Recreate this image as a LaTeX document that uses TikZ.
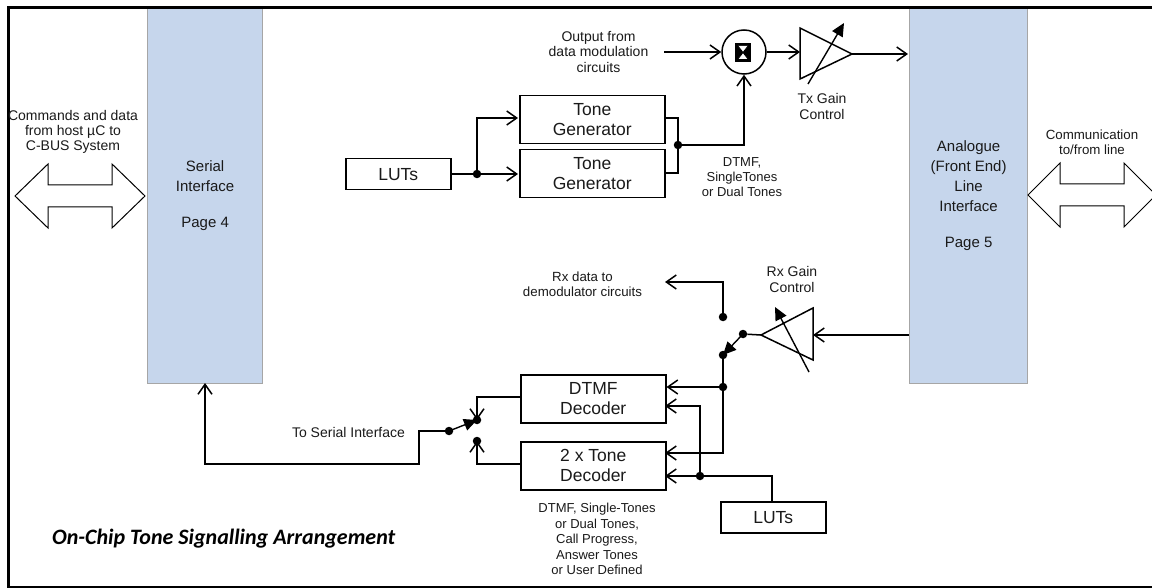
\documentclass[tikz,border=0pt]{standalone}
\usepackage{fontspec}
\setmainfont{Liberation Sans}
\newfontfamily\captionfont{Carlito}
\usetikzlibrary{arrows.meta}
\definecolor{panelblue}{HTML}{C6D6EC}
\definecolor{panelgrey}{HTML}{A6A6A6}
\definecolor{inktext}{HTML}{1A1A1A}
\tikzset{
  x=1pt,y=-1pt,
  wire/.style={draw=black,line width=1.5pt},
  flow/.style={wire,-{Straight Barb[length=10pt,width=14pt,line width=1.5pt]}},
  gainarrow/.style={draw=black,line width=1.4pt,-{Triangle[length=13pt,width=12pt]}},
  blockbox/.style={draw=black,line width=1.5pt,fill=white,inner sep=0pt,anchor=north west,align=center,font=\fontsize{17.5}{20}\selectfont,text=inktext},
  panel/.style={draw=panelgrey,line width=1.2pt,fill=panelblue,inner sep=0pt,anchor=north west,align=center,font=\fontsize{15}{20}\selectfont,text=inktext},
  label/.style={inner sep=0pt,align=center,font=\fontsize{13}{15}\selectfont,text=inktext},
  largelabel/.style={label,font=\fontsize{14}{15.2}\selectfont},
  dotnode/.style={circle,fill=black,inner sep=0pt,minimum size=8.5pt},
  bigarrow/.style={draw=black,line width=1pt,fill=white,line join=miter},
  ampshape/.style={draw=black,line width=1.5pt,fill=white,line join=miter},
}
\begin{document}
\begin{tikzpicture}
\useasboundingbox (0,0) rectangle (1152,588);
\fill[white] (0,0) rectangle (1152,588);
\node[panel,minimum width=115pt,minimum height=375pt] (serial) at (147,8) {Serial\\Interface\\[16pt]Page 4};
\node[panel,minimum width=118pt,minimum height=375pt] (analog) at (909,8) {Analogue\\(Front End)\\Line\\Interface\\[16pt]Page 5};
\draw[black,line width=3pt] (1152,8) -- (8,8) -- (8,587.5) -- (1152,587.5);
% wide double arrows
\draw[bigarrow] (15,196) -- (48,164) -- (48,185) -- (112,185) -- (112,164) -- (145,196) -- (112,228) -- (112,207) -- (48,207) -- (48,228) -- cycle;
\begin{scope}
\clip (1000,100) rectangle (1152,260);
\draw[bigarrow] (1028,195) -- (1060,163) -- (1060,184) -- (1124,184) -- (1124,163) -- (1156,195) -- (1124,227) -- (1124,206) -- (1060,206) -- (1060,227) -- cycle;
\end{scope}
\node[largelabel] (hostlabel) at (73,132) {Commands and data\\from host µC to\\C-BUS System};
\node[label,font=\fontsize{13.3}{14.6}\selectfont] (linelabel) at (1092,142) {Communication\\to/from line};
% transmit
\node[blockbox,minimum width=145pt,minimum height=48pt] (tone1) at (519,95) {Tone\\Generator};
\node[blockbox,minimum width=145pt,minimum height=48pt] (tone2) at (519,149) {Tone\\Generator};
\node[blockbox,minimum width=105pt,minimum height=31pt] (lutstx) at (345,158) {LUTs};
\node[dotnode] (jtx) at (477,174) {};
\coordinate (tone1in) at (518,118);
\coordinate (tone2in) at (518,174);
\draw[wire] (lutstx.east |- jtx) -- (jtx);
\draw[flow] (jtx) -- (tone2in);
\draw[flow] (jtx) |- (tone1in);
\node[circle,draw=black,line width=1.5pt,fill=white,minimum size=44pt,inner sep=0pt] (mixer) at (744,52) {};
\fill[black] (735,43) rectangle (751,62);
\fill[white] (738,46) -- (748,46) -- (743,52.5) -- cycle;
\fill[white] (738,59) -- (748,59) -- (743,52.5) -- cycle;
\draw[black,line width=0.8pt] (738,46) -- (748,59) (748,46) -- (738,59);
\node[dotnode] (jmix) at (678,145) {};
\draw[wire] (664,118) -| (jmix);
\draw[wire] (jmix) |- (664,173);
\draw[flow] (jmix) -| (mixer.south);
\coordinate (modout) at (664,52);
\node[largelabel] (modlabel) at (598.5,52) {Output from\\data modulation\\circuits};
\draw[flow] (modout) -- (mixer.west);
\coordinate (txin) at (800,52);
\draw[flow] (mixer.east) -- (txin);
\draw[ampshape] (800,28) -- (800,79) -- (852,54) -- cycle;
\coordinate (txout) at (852,54);
\coordinate (txin2) at (908,54);
\draw[flow] (txout) -- (txin2);
\coordinate (txga) at (808,84);
\coordinate (txgb) at (844,23);
\draw[gainarrow] (txga) -- (txgb);
\node[largelabel] (txlabel) at (822,106.5) {Tx Gain\\Control};
\node[label] (dtmflabel) at (742,177) {DTMF,\\SingleTones\\or Dual Tones};
% receive
\draw[ampshape] (813,308) -- (813,360) -- (761,335) -- cycle;
\coordinate (rxin) at (813,335);
\coordinate (rxtip) at (761,335);
\draw[flow] (analog.west |- rxin) -- (rxin);
\coordinate (rxga) at (809,372);
\coordinate (rxgb) at (775,307);
\draw[gainarrow] (rxga) -- (rxgb);
\node[largelabel] (rxlabel) at (792,279.5) {Rx Gain\\Control};
\node[dotnode] (sa) at (743,334) {};
\node[dotnode] (sb) at (723,355) {};
\node[dotnode] (sc) at (723,317) {};
\node[dotnode] (jrx) at (723,387) {};
\draw[wire] (rxtip) -- (sa);
\draw[gainarrow] (sa.center) -- (sb.center);
\coordinate (rxdata) at (665,282);
\draw[flow] (sc) |- (rxdata);
\node[label,font=\fontsize{13.3}{15}\selectfont] (rxdatalabel) at (582.5,284) {Rx data to\\demodulator circuits};
\node[blockbox,minimum width=145pt,minimum height=48pt] (dtmf) at (520,374) {DTMF\\Decoder};
\node[blockbox,minimum width=145pt,minimum height=48pt] (twotone) at (520,441) {2 x Tone\\Decoder};
\draw[wire] (sb) -- (jrx);
\draw[flow] (jrx) -- (dtmf.east |- jrx);
\coordinate (twoin) at (665,453);
\draw[flow] (jrx) |- (twoin);
\node[blockbox,minimum width=105pt,minimum height=31pt] (lutsrx) at (720,501) {LUTs};
\node[dotnode] (jlut) at (700,476) {};
\coordinate (dtmfin2) at (665,406);
\coordinate (twoin2) at (665,476);
\coordinate (lutstop) at (772,501);
\draw[flow] (jlut) |- (dtmfin2);
\draw[flow] (jlut) -- (twoin2);
\draw[wire] (lutstop) |- (jlut);
\node[label,font=\fontsize{13}{15.5}\selectfont] (decodelabel) at (597,539) {DTMF, Single-Tones\\or Dual Tones,\\Call Progress,\\Answer Tones\\or User Defined};
% output switch
\node[dotnode] (oa) at (449,431) {};
\node[dotnode] (ob) at (477,420) {};
\node[dotnode] (oc) at (477,441) {};
\coordinate (dleft) at (520,397);
\coordinate (tleft) at (520,464);
\draw[gainarrow] (oa.center) -- (ob.center);
\draw[flow] (dleft) -| (ob.center);
\draw[flow] (tleft) -| (oc.center);
\coordinate (o1) at (419,431);
\coordinate (o2) at (419,464);
\coordinate (o3) at (205,464);
\coordinate (o4) at (205,383);
\draw[flow] (oa) -- (o1) -- (o2) -- (o3) -- (o4);
\node[largelabel] (tosi) at (348.5,432) {To Serial Interface};
\node[inner sep=0pt,anchor=west,font=\captionfont\fontsize{22}{26}\selectfont\bfseries\itshape] (caption) at (52,539) {On-Chip Tone Signalling Arrangement};
\end{tikzpicture}
\end{document}
